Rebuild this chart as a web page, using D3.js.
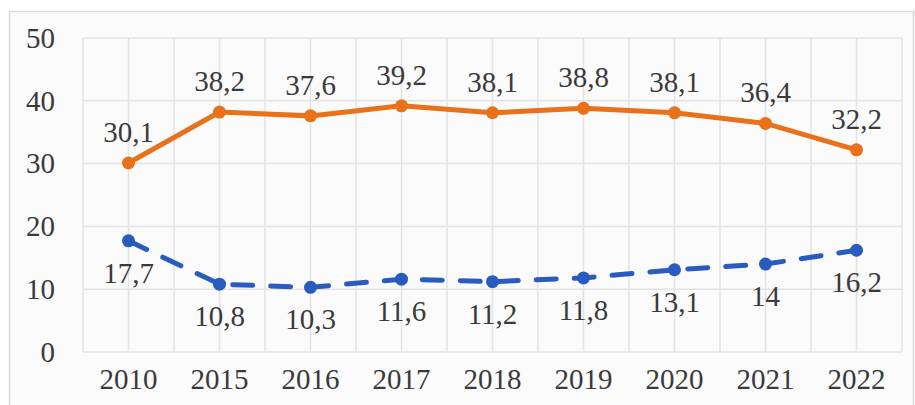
<!DOCTYPE html>
<html>
<head>
<meta charset="utf-8">
<script src="https://cdn.jsdelivr.net/npm/d3@7"></script>
</head>
<body style="margin:0">
<script>
// data
var years = ["2010", "2015", "2016", "2017", "2018", "2019", "2020", "2021", "2022"];
var upper = [30.1, 38.2, 37.6, 39.2, 38.1, 38.8, 38.1, 36.4, 32.2];
var lower = [17.7, 10.8, 10.3, 11.6, 11.2, 11.8, 13.1, 14, 16.2];
var yTicks = [0, 10, 20, 30, 40, 50];

var W = 915, H = 405;
var margin = {left: 83, right: 13, top: 38, bottom: 53};
var labelFont = "Liberation Serif";
var fontSize = 29;
var textColor = "#3a3a3a";

var svg = d3.select("body").append("svg")
    .attr("width", W)
    .attr("height", H);

// chart frame
svg.append("rect")
    .attr("x", 9.5).attr("y", 11.5)
    .attr("width", 904).attr("height", 400)
    .attr("fill", "#fbfbfb")
    .attr("stroke", "#d9d9d9")
    .attr("stroke-width", 1.5);

var x = d3.scaleBand()
    .domain(years)
    .range([margin.left, W - margin.right]);

var y = d3.scaleLinear()
    .domain([0, 50])
    .range([H - margin.bottom, margin.top]);

var cx = function(d, i) { return x(years[i]) + x.bandwidth() / 2; };

// vertical gridlines at band edges and centres
var vLines = [];
years.forEach(function(yr) {
    vLines.push(x(yr));
    vLines.push(x(yr) + x.bandwidth() / 2);
});
vLines.push(x.range()[1]);

svg.append("g").selectAll("line")
    .data(vLines)
    .enter()
    .append("line")
    .attr("x1", function(d) { return d; })
    .attr("x2", function(d) { return d; })
    .attr("y1", y(0))
    .attr("y2", y(50))
    .attr("stroke", "#e3e3e3")
    .attr("stroke-width", 1.5);

svg.append("g").selectAll("line")
    .data(yTicks)
    .enter()
    .append("line")
    .attr("x1", margin.left)
    .attr("x2", W - margin.right)
    .attr("y1", function(d) { return y(d); })
    .attr("y2", function(d) { return y(d); })
    .attr("stroke", "#e3e3e3")
    .attr("stroke-width", 1.5);

// y axis labels
var gy = svg.append("g")
    .attr("transform", "translate(" + margin.left + ",0)")
    .call(d3.axisLeft(y).tickValues(yTicks).tickSize(0).tickPadding(28));
gy.attr("font-family", labelFont).attr("font-size", fontSize);
gy.select(".domain").remove();
gy.selectAll("text").attr("fill", textColor);

// x axis labels
var gx = svg.append("g")
    .attr("transform", "translate(0," + y(0) + ")")
    .call(d3.axisBottom(x).tickSize(0).tickPadding(16));
gx.attr("font-family", labelFont).attr("font-size", fontSize);
gx.select(".domain").remove();
gx.selectAll("text").attr("fill", textColor);

var line = d3.line()
    .x(cx)
    .y(function(d) { return y(d); });

function fmt(v) { return String(v).replace(".", ","); }

function drawSeries(values, color, dash, labelDy) {
    svg.append("path")
        .datum(values)
        .attr("d", line)
        .attr("fill", "none")
        .attr("stroke", color)
        .attr("stroke-width", 5)
        .attr("stroke-linecap", "round")
        .attr("stroke-dasharray", dash);

    svg.append("g").selectAll("circle")
        .data(values)
        .enter()
        .append("circle")
        .attr("cx", cx)
        .attr("cy", function(d) { return y(d); })
        .attr("r", 6.5)
        .attr("fill", color);

    svg.append("g")
        .attr("font-family", labelFont)
        .attr("font-size", fontSize)
        .selectAll("text")
        .data(values)
        .enter()
        .append("text")
        .attr("x", cx)
        .attr("y", function(d) { return y(d) + labelDy; })
        .attr("text-anchor", "middle")
        .attr("fill", textColor)
        .text(fmt);
}

drawSeries(upper, "#e8711a", null, -21);
drawSeries(lower, "#2a5cbf", "20,18", 42);
</script>
</body>
</html>
